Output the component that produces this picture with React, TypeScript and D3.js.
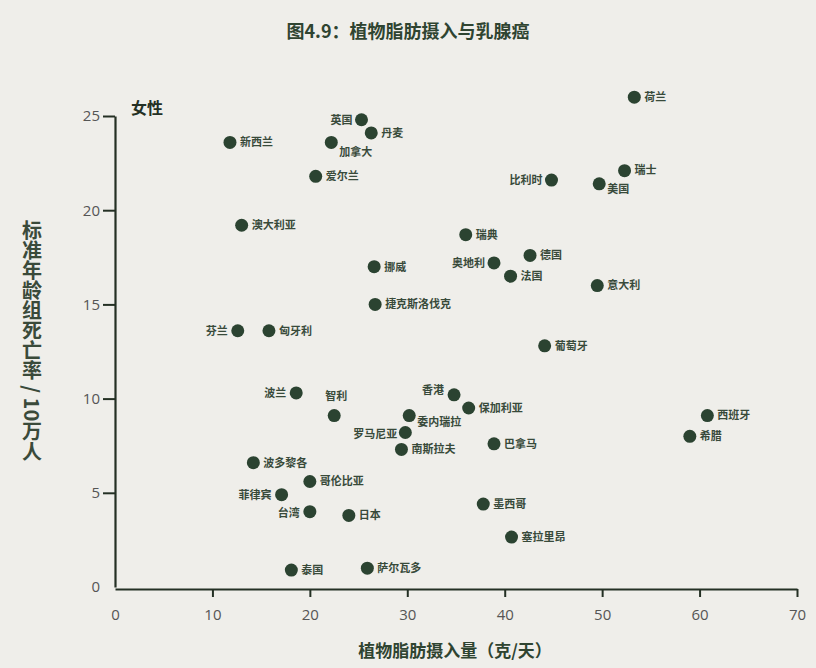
import { useEffect, useRef } from 'react'
import * as d3 from 'd3'

// country, vegetable fat intake (g/day), age-adjusted death rate per 100k
const countries = [
  '荷兰', '英国', '丹麦', '新西兰', '加拿大', '瑞士', '比利时', '美国', '爱尔兰',
  '澳大利亚', '瑞典', '德国', '奥地利', '挪威', '法国', '意大利', '捷克斯洛伐克',
  '芬兰', '匈牙利', '葡萄牙', '波兰', '智利', '香港', '保加利亚', '委内瑞拉',
  '罗马尼亚', '南斯拉夫', '巴拿马', '西班牙', '希腊', '波多黎各', '哥伦比亚',
  '菲律宾', '台湾', '日本', '墨西哥', '塞拉里昂', '泰国', '萨尔瓦多',
]
const fatIntake = [
  53.3, 25.3, 26.3, 11.8, 22.2, 52.3, 44.8, 49.7, 20.6,
  13.0, 36.0, 42.6, 38.9, 26.6, 40.6, 49.5, 26.7,
  12.6, 15.8, 44.1, 18.6, 22.5, 34.8, 36.3, 30.2,
  29.8, 29.4, 38.9, 60.8, 59.0, 14.2, 20.0,
  17.1, 20.0, 24.0, 37.8, 40.7, 18.1, 25.9,
]
const deathRate = [
  26.0, 24.8, 24.1, 23.6, 23.6, 22.1, 21.6, 21.4, 21.8,
  19.2, 18.7, 17.6, 17.2, 17.0, 16.5, 16.0, 15.0,
  13.6, 13.6, 12.8, 10.3, 9.1, 10.2, 9.5, 9.1,
  8.2, 7.3, 7.6, 9.1, 8.0, 6.6, 5.6,
  4.9, 4.0, 3.8, 4.4, 2.65, 0.9, 1.0,
]
const xTicks = [0, 10, 20, 30, 40, 50, 60, 70]
const yTicks = [0, 5, 10, 15, 20, 25]

// label placement (default: right of the dot)
const labelPlace: Record<string, [number, number, string]> = {
  英国: [-9, 0, 'end'],
  比利时: [-9, 0, 'end'],
  奥地利: [-9, 0, 'end'],
  芬兰: [-10, 0, 'end'],
  波兰: [-10, 0, 'end'],
  菲律宾: [-10, 0, 'end'],
  台湾: [-10, 2, 'end'],
  罗马尼亚: [-8, 2, 'end'],
  香港: [-10, -5, 'end'],
  智利: [2, -19, 'middle'],
  加拿大: [8, 10, 'start'],
  美国: [8, 5, 'start'],
  委内瑞拉: [8, 7, 'start'],
}

const W = 816
const H = 668
const ink = '#243024'
const dot = '#2b4331'
const font = '"Noto Sans CJK SC", "Noto Sans", sans-serif'

const App = () => {
  const ref = useRef<SVGSVGElement | null>(null)

  useEffect(() => {
    if (!ref.current) return
    const svg = d3.select(ref.current)
    svg.selectAll('*').remove()

    const x = d3.scaleLinear().domain([0, 70]).range([115, 797])
    const y = d3.scaleLinear().domain([0, 25]).range([587, 116])

    svg.append('rect').attr('width', W).attr('height', H).attr('fill', '#efeeea')

    svg
      .append('text')
      .attr('x', 408)
      .attr('y', 38)
      .attr('text-anchor', 'middle')
      .attr('font-family', font)
      .attr('font-size', 18)
      .attr('font-weight', 700)
      .attr('fill', '#2f4431')
      .text('图4.9：植物脂肪摄入与乳腺癌')

    svg
      .append('text')
      .attr('x', 131)
      .attr('y', 114)
      .attr('font-family', font)
      .attr('font-size', 16)
      .attr('font-weight', 700)
      .attr('fill', ink)
      .text('女性')

    // axes
    const xAxis = svg
      .append('g')
      .attr('transform', `translate(0,${y(0) + 2})`)
      .call(d3.axisBottom(x).tickValues(xTicks).tickSize(8).tickSizeOuter(0).tickPadding(12))
    const yAxis = svg
      .append('g')
      .attr('transform', `translate(${x(0)},0)`)
      .call(d3.axisLeft(y).tickValues(yTicks).tickSize(12).tickSizeOuter(0).tickPadding(3))
    ;[xAxis, yAxis].forEach((g) => {
      g.select('.domain').attr('stroke', ink).attr('stroke-width', 2.2)
      g.selectAll('.tick line').attr('stroke', ink).attr('stroke-width', 2)
      g.selectAll('text')
        .attr('font-family', '"Open Sans", "Noto Sans", sans-serif')
        .attr('font-size', 15)
        .attr('fill', '#555')
    })
    yAxis.selectAll('.tick').filter((d: any) => d === 0).select('line').remove()
    xAxis.selectAll('.tick').filter((d: any) => d === 0).select('line').remove()

    // points
    const g = svg.append('g')
    countries.forEach((name, i) => {
      const cx = x(fatIntake[i])
      const cy = y(deathRate[i])
      g.append('circle').attr('cx', cx).attr('cy', cy).attr('r', 6.5).attr('fill', dot)
      const [dx, dy, anchor] = labelPlace[name] ?? [10, 0, 'start']
      g.append('text')
        .attr('x', cx + dx)
        .attr('y', cy + dy)
        .attr('dy', '0.35em')
        .attr('text-anchor', anchor)
        .attr('font-family', font)
        .attr('font-size', 11)
        .attr('font-weight', 700)
        .attr('fill', '#384a3a')
        .text(name)
    })

    // axis titles
    svg
      .append('text')
      .attr('x', 455)
      .attr('y', 657)
      .attr('text-anchor', 'middle')
      .attr('font-family', font)
      .attr('font-size', 17)
      .attr('font-weight', 700)
      .attr('fill', '#2f4431')
      .text('植物脂肪摄入量（克/天）')

    svg
      .append('text')
      .attr('x', 32)
      .attr('y', 341)
      .attr('text-anchor', 'middle')
      .attr('font-family', font)
      .attr('font-size', 20)
      .attr('font-weight', 700)
      .attr('fill', '#3a4a3a')
      .style('writing-mode', 'vertical-rl')
      .text('标准年龄组死亡率 / 10万人')
  }, [])

  return (
    <svg
      ref={ref}
      width={W}
      height={H}
      style={{ position: 'absolute', left: 0, top: 0, display: 'block' }}
    />
  )
}

export default App
